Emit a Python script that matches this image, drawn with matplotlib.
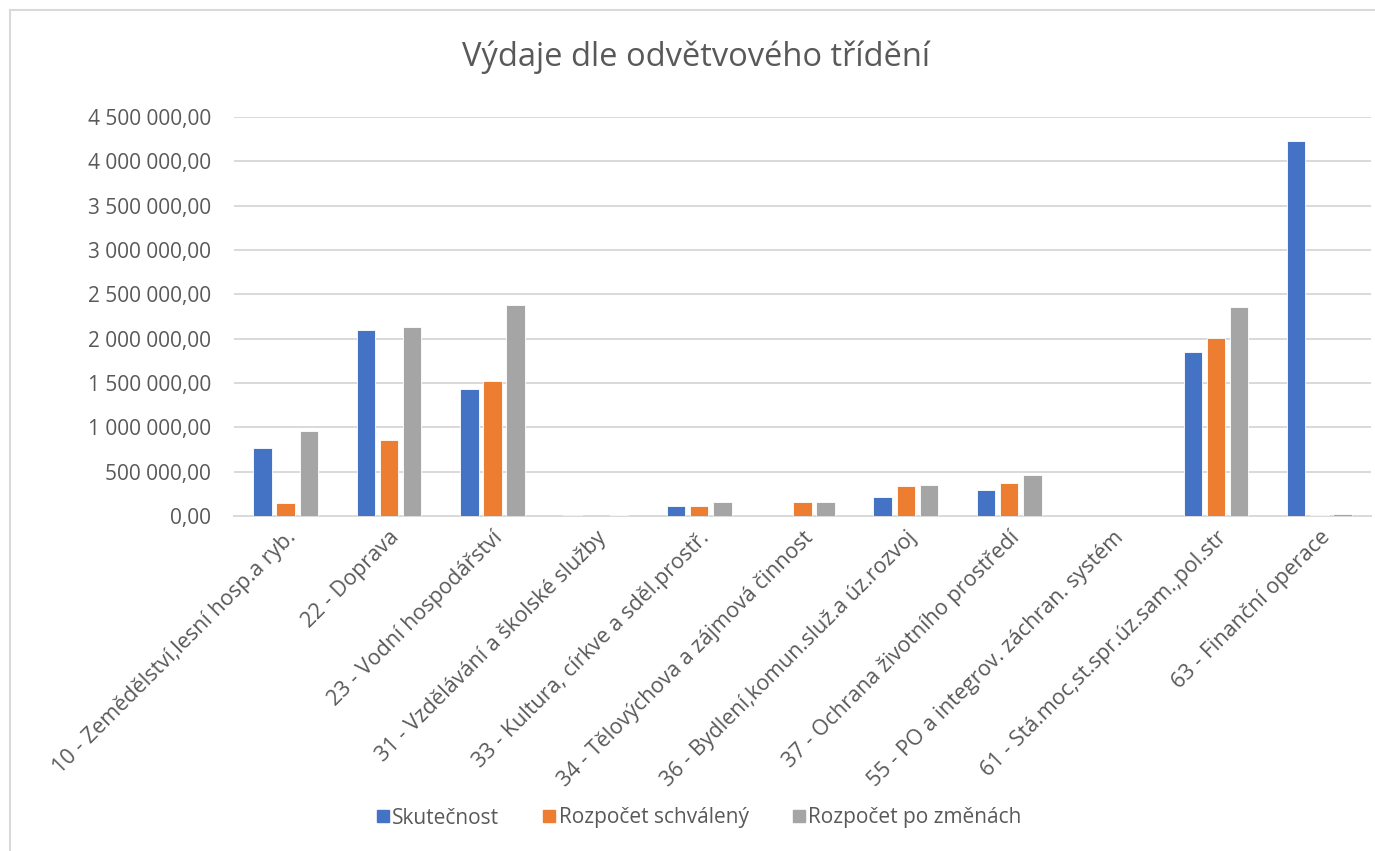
import matplotlib
matplotlib.use("Agg")
import matplotlib.pyplot as plt
from matplotlib.ticker import FuncFormatter, MultipleLocator
from matplotlib.lines import Line2D
import numpy as np

categories = [
    "10 - Zemědělství,lesní hosp.a ryb.",
    "22 - Doprava",
    "23 - Vodní hospodářství",
    "31 - Vzdělávání a školské služby",
    "33 - Kultura, církve a sděl.prostř.",
    "34 - Tělovýchova a zájmová činnost",
    "36 - Bydlení,komun.služ.a úz.rozvoj",
    "37 - Ochrana životního prostředí",
    "55 - PO a integrov. záchran. systém",
    "61 - Stá.moc,st.spr.úz.sam.,pol.str",
    "63 - Finanční operace",
]
series_names = ["Skutečnost", "Rozpočet schválený", "Rozpočet po změnách"]
skutecnost = [770000, 2100000, 1435000, 10000, 113000, 0, 213000, 295000, 2000, 1853000, 4232000]
schvaleny = [150000, 860000, 1525000, 0, 113000, 160000, 340000, 371000, 3000, 2010000, 15000]
po_zmenach = [962000, 2133000, 2383000, 8000, 160000, 160000, 352000, 461000, 3000, 2360000, 22000]
colors = ["#4472C4", "#ED7D31", "#A5A5A5"]

plt.rcParams['font.family'] = ['Open Sans', 'DejaVu Sans']
text_color = "#595959"

fig = plt.figure(figsize=(13.75, 8.51), dpi=100)
ax = fig.add_axes([234/1375, 1-516/851, (1371-234)/1375, (516-117)/851])

x = np.arange(len(categories))
w = 0.179
off = 0.224
for i, (vals, c, name) in enumerate(zip([skutecnost, schvaleny, po_zmenach], colors, series_names)):
    ax.bar(x + (i-1)*off, vals, width=w, color=c, edgecolor="white", linewidth=0.6, label=name, zorder=3)

ax.set_xlim(-0.5, len(categories)-0.5)
ax.set_ylim(0, 4500000)
ax.yaxis.set_major_locator(MultipleLocator(500000))

def fmt(v, pos):
    s = f"{v:,.2f}"
    s = s.replace(",", " ").replace(".", ",")
    return s
ax.yaxis.set_major_formatter(FuncFormatter(fmt))

ax.grid(axis="y", color="#D9D9D9", linewidth=1.4, zorder=0)
for sp in ["top", "right", "left"]:
    ax.spines[sp].set_visible(False)
ax.spines["bottom"].set_color("#D9D9D9")
ax.spines["bottom"].set_linewidth(1.4)
ax.tick_params(axis="both", length=0, labelsize=15, colors=text_color)
ax.tick_params(axis="y", pad=16.5)
ax.set_xticks(x)
ax.set_xticklabels(categories, rotation=45, ha="right", rotation_mode="anchor", fontsize=15.5)
ax.tick_params(axis="x", pad=8)

fig.text(696/1375, 1-57/851, "Výdaje dle odvětvového třídění", ha="center", va="center",
         fontsize=23.5, color=text_color)

handles = [Line2D([0], [0], marker="s", linestyle="none", markersize=8,
                  markerfacecolor=c, markeredgecolor=c) for c in colors]
leg = fig.legend(handles, series_names, loc="center", bbox_to_anchor=(698/1375, 1-818/851),
                 ncol=3, frameon=False, fontsize=15, handletextpad=0.05, columnspacing=2.0,
                 handlelength=0.8)
for t in leg.get_texts():
    t.set_color(text_color)

# chart border (top & left)
fig.add_artist(Line2D([10/1375, 1], [1-10/851, 1-10/851], color="#D9D9D9", linewidth=1.5))
fig.add_artist(Line2D([10/1375, 10/1375], [0, 1-10/851], color="#D9D9D9", linewidth=1.5))

fig.savefig("out.png", dpi=100)
